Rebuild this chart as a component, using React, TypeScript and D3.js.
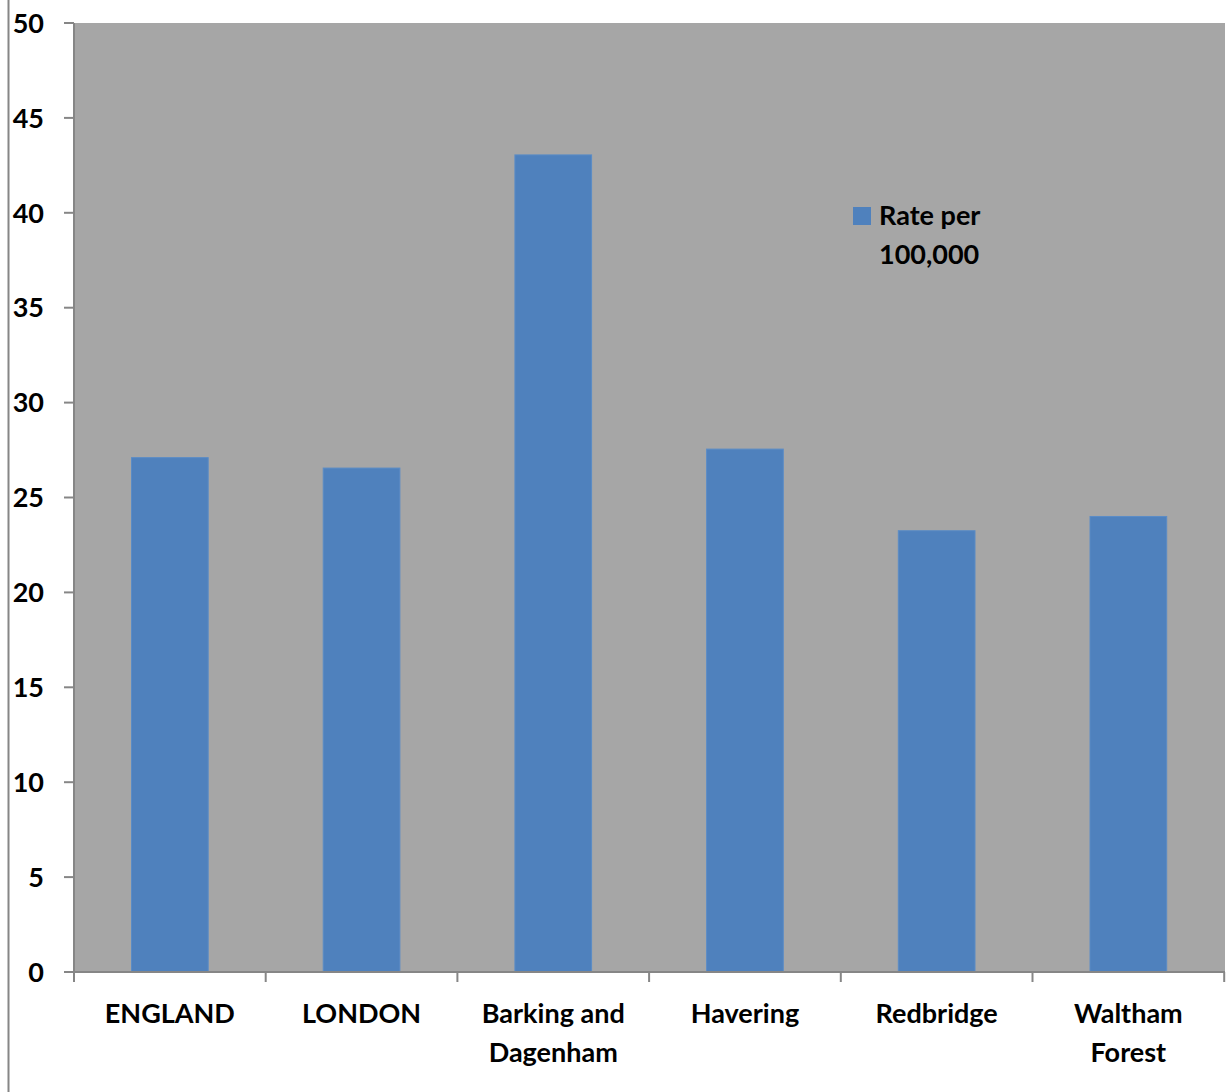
import React from "react";
import * as d3 from "d3";

const categories: string[][] = [
  ["ENGLAND"],
  ["LONDON"],
  ["Barking and", "Dagenham"],
  ["Havering"],
  ["Redbridge"],
  ["Waltham", "Forest"],
];
const rates: number[] = [27.1, 26.55, 43.05, 27.55, 23.25, 24.0];
const yTicks: number[] = [0, 5, 10, 15, 20, 25, 30, 35, 40, 45, 50];
const seriesName: string[] = ["Rate per", "100,000"];

const W = 1228;
const H = 1092;
const plot = { left: 74, right: 1225, top: 23, bottom: 972 };
const FONT = "Lato, 'Open Sans', sans-serif";

export default function App() {
  const keys = categories.map((_, i) => String(i));
  const x = d3
    .scaleBand<string>()
    .domain(keys)
    .range([plot.left, plot.left + 6 * 191.7])
    .paddingInner(0.6)
    .paddingOuter(0.3);
  const step = x.step();
  const y = d3.scaleLinear().domain([0, 50]).range([plot.bottom, plot.top]);
  const axisColor = "#868686";

  return (
    <svg
      width={W}
      height={H}
      style={{ position: "absolute", left: 0, top: 0, background: "#fff" }}
      fontFamily={FONT}
    >
      <line x1={8.5} x2={8.5} y1={0} y2={H} stroke={axisColor} strokeWidth={2} />
      <rect
        x={plot.left}
        y={plot.top}
        width={plot.right - plot.left}
        height={plot.bottom - plot.top}
        fill="#A6A6A6"
      />
      {rates.map((v, i) => (
        <rect
          key={i}
          x={x(String(i))!}
          y={y(v)}
          width={x.bandwidth()}
          height={plot.bottom - y(v)}
          fill="#4F81BD"
          stroke="#5b8cc6"
          strokeWidth={1}
        />
      ))}
      {/* y axis */}
      <line x1={plot.left} x2={plot.left} y1={plot.top} y2={plot.bottom} stroke={axisColor} strokeWidth={2} />
      {yTicks.map((t) => (
        <g key={t}>
          <line x1={plot.left - 10} x2={plot.left} y1={y(t)} y2={y(t)} stroke={axisColor} strokeWidth={2} />
          <text
            x={44}
            y={y(t)}
            dy="0.36em"
            textAnchor="end"
            fontSize={27}
            fontWeight="bold"
            fill="#000"
          >
            {t}
          </text>
        </g>
      ))}
      {/* x axis */}
      <line x1={plot.left} x2={plot.right} y1={plot.bottom} y2={plot.bottom} stroke={axisColor} strokeWidth={2} />
      {d3.range(7).map((i) => (
        <line
          key={i}
          x1={plot.left + i * step}
          x2={plot.left + i * step}
          y1={plot.bottom}
          y2={plot.bottom + 10}
          stroke={axisColor}
          strokeWidth={2}
        />
      ))}
      {categories.map((lines, i) => (
        <text
          key={i}
          x={plot.left + (i + 0.5) * step}
          textAnchor="middle"
          fontSize={27}
          fontWeight="bold"
          fill="#000"
        >
          {lines.map((l, j) => (
            <tspan key={j} x={plot.left + (i + 0.5) * step} y={1023 + j * 39}>
              {l}
            </tspan>
          ))}
        </text>
      ))}
      {/* legend */}
      <rect x={853} y={207} width={18} height={18} fill="#4F81BD" />
      <text fontSize={27} fontWeight="bold" fill="#000">
        {seriesName.map((l, j) => (
          <tspan key={j} x={879} y={225 + j * 39}>
            {l}
          </tspan>
        ))}
      </text>
    </svg>
  );
}
